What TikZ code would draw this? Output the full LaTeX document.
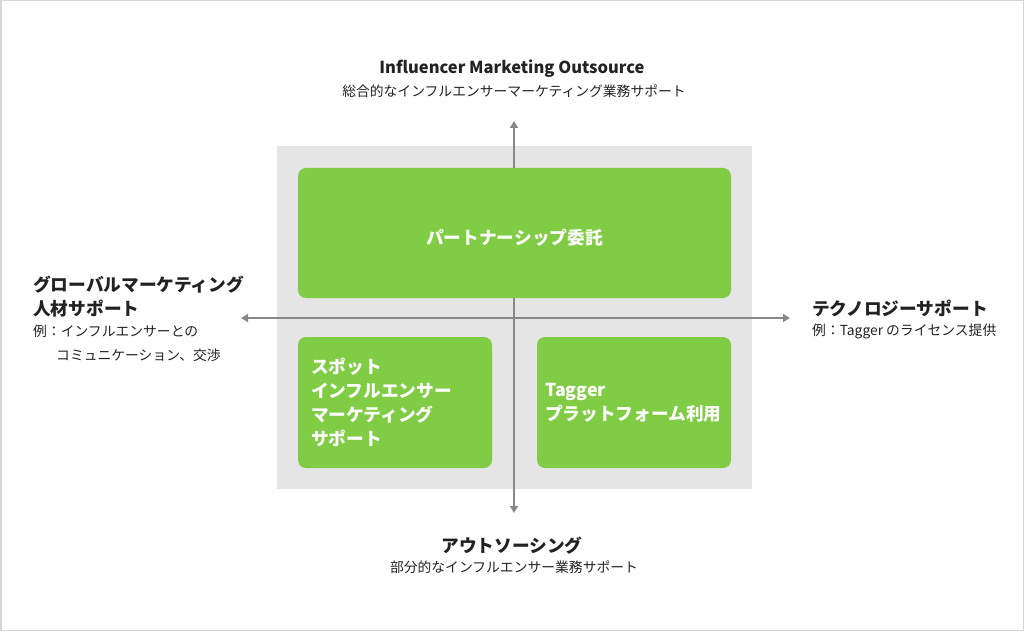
\documentclass[tikz,border=0pt]{standalone}
\usepackage{fontspec}
\setmainfont{Noto Sans CJK JP}
\usetikzlibrary{arrows.meta,positioning}
\definecolor{leaf}{RGB}{128,204,68}
\definecolor{panel}{RGB}{229,229,229}
\definecolor{axisgray}{RGB}{136,136,136}
\definecolor{ink}{RGB}{34,34,34}
\definecolor{frame}{RGB}{214,214,214}
\tikzset{
  greenbox/.style={fill=leaf, rounded corners=8pt, text=white, inner sep=0pt,
    font=\bfseries\fontsize{17.7}{24}\selectfont},
  axisline/.style={draw=axisgray, line width=2pt, -{Triangle[width=8pt,length=7pt]}},
  headtxt/.style={text=ink, inner sep=0pt, font=\bfseries\fontsize{17.7}{24}\selectfont},
  subtxt/.style={text=ink, inner sep=0pt, font=\fontsize{13.8}{24}\selectfont},
}
\begin{document}
\begin{tikzpicture}[x=1pt,y=-1pt]
        \useasboundingbox (0,0) rectangle (1024,631);
        \draw[frame, line width=1.5pt] (0.75,0.75) rectangle (1023.25,630.25);
        % grey panel and axes
        \fill[panel] (277,146) rectangle (752,489);
        \coordinate (mid) at (514,318);
        \coordinate (axtop) at (514,121);
        \coordinate (axbot) at (514,513);
        \coordinate (axleft) at (241,318);
        \coordinate (axright) at (790,318);
        \foreach \e in {axtop,axbot,axleft,axright}
            \draw[axisline] (mid) -- (\e);
        % green boxes
        \node[greenbox, minimum width=433pt, minimum height=130pt] (partner) at (514.5,233) {};
        \node[greenbox, fill=none] (partnertxt) at ([yshift=-4.5pt]partner.center) {パートナーシップ委託};
        \node[greenbox, minimum width=194pt, minimum height=131pt, text width=168pt,
              inner xsep=13pt, align=left] (spot) at (395,402.5)
              {スポット\\インフルエンサー\\マーケティング\\サポート};
        \node[greenbox, minimum width=194pt, minimum height=131pt, text width=178pt,
              inner xsep=8pt, align=left] (tagger) at (634,402.5)
              {Tagger\\プラットフォーム利用};
        % labels at the axis ends
        \node[headtxt, font=\bfseries\fontsize{16.5}{24}\selectfont] (outsrc) at (512,69) {Influencer Marketing Outsource};
        \node[subtxt] (outsrcsub) at (514,91) {総合的なインフルエンサーマーケティング業務サポート};
        \node[headtxt] (partial) at (512,546) {アウトソーシング};
        \node[subtxt] (partialsub) at (514,567) {部分的なインフルエンサー業務サポート};
        \node[headtxt, anchor=west, align=left] (global) at (33,297)
              {グローバルマーケティング\\人材サポート};
        \node[subtxt, anchor=west, align=left] (globalsub) at (33,343)
              {例：インフルエンサーとの\\\hspace{23pt}コミュニケーション、交渉};
        \node[headtxt, anchor=west] (tech) at (812,308) {テクノロジーサポート};
        \node[subtxt, anchor=west] (techsub) at (812,331) {例：Tagger のライセンス提供};
\end{tikzpicture}
\end{document}
